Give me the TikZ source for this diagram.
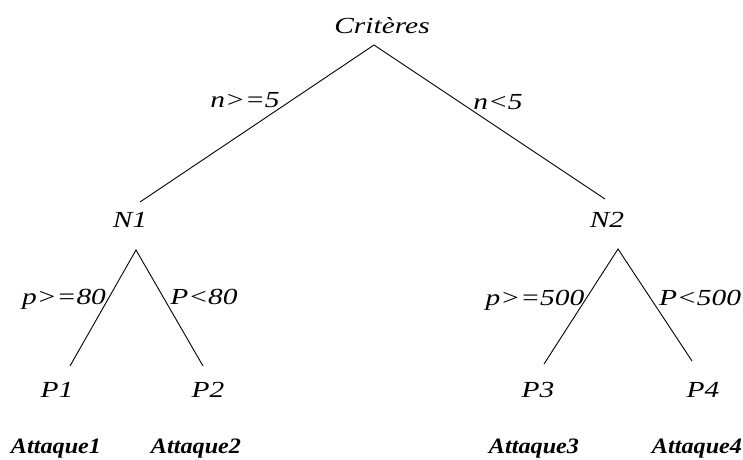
\documentclass[tikz,border=0pt]{standalone}
\usepackage{fontspec}
\newfontfamily\lblfont[FakeStretch=1.28]{Liberation Serif}
\newfontfamily\attfont[FakeStretch=1.1]{Liberation Serif}
\begin{document}
\begin{tikzpicture}[x=1pt,y=-1pt,
  lbl/.style={inner sep=0pt,text height=15pt,text depth=0pt,font=\lblfont\itshape\fontsize{23}{25}\selectfont},
  att/.style={inner sep=0pt,text height=15pt,text depth=0pt,font=\attfont\bfseries\itshape\fontsize{22}{24}\selectfont},
  edge/.style={draw=black,line width=0.9pt}]
\useasboundingbox[fill=white] (0,0) rectangle (743,459);
% texts
\node[lbl] (crit) at (382,26) {Critères};
\node[lbl] (n1) at (130,220) {N1};
\node[lbl] (n2) at (607,220) {N2};
\node[lbl] (l1) at (245,100) {n>=5};
\node[lbl] (l2) at (498,102) {n<5};
\node[lbl] (l3) at (64,297) {p>=80};
\node[lbl] (l4) at (204,297) {P<80};
\node[lbl] (l5) at (535,298) {p>=500};
\node[lbl] (l6) at (700,298) {P<500};
\node[lbl] (p1) at (57,390) {P1};
\node[lbl] (p2) at (208,390) {P2};
\node[lbl] (p3) at (538,390) {P3};
\node[lbl] (p4) at (703,390) {P4};
\node[att] (a1) at (56,446) {Attaque1};
\node[att] (a2) at (196,446) {Attaque2};
\node[att] (a3) at (534,446) {Attaque3};
\node[att] (a4) at (697,446) {Attaque4};
% connector end points
\coordinate (c0) at (374,45);
\coordinate (e1) at (140,202);
\coordinate (e2) at (605,199);
\coordinate (c1) at (136,250);
\coordinate (f1) at (70,366);
\coordinate (f2) at (203,366);
\coordinate (c2) at (618,249);
\coordinate (f3) at (544,364);
\coordinate (f4) at (692,361);
% connectors
\draw[edge] (e1) -- (c0) -- (e2);
\draw[edge] (f1) -- (c1) -- (f2);
\draw[edge] (f3) -- (c2) -- (f4);
\end{tikzpicture}
\end{document}
